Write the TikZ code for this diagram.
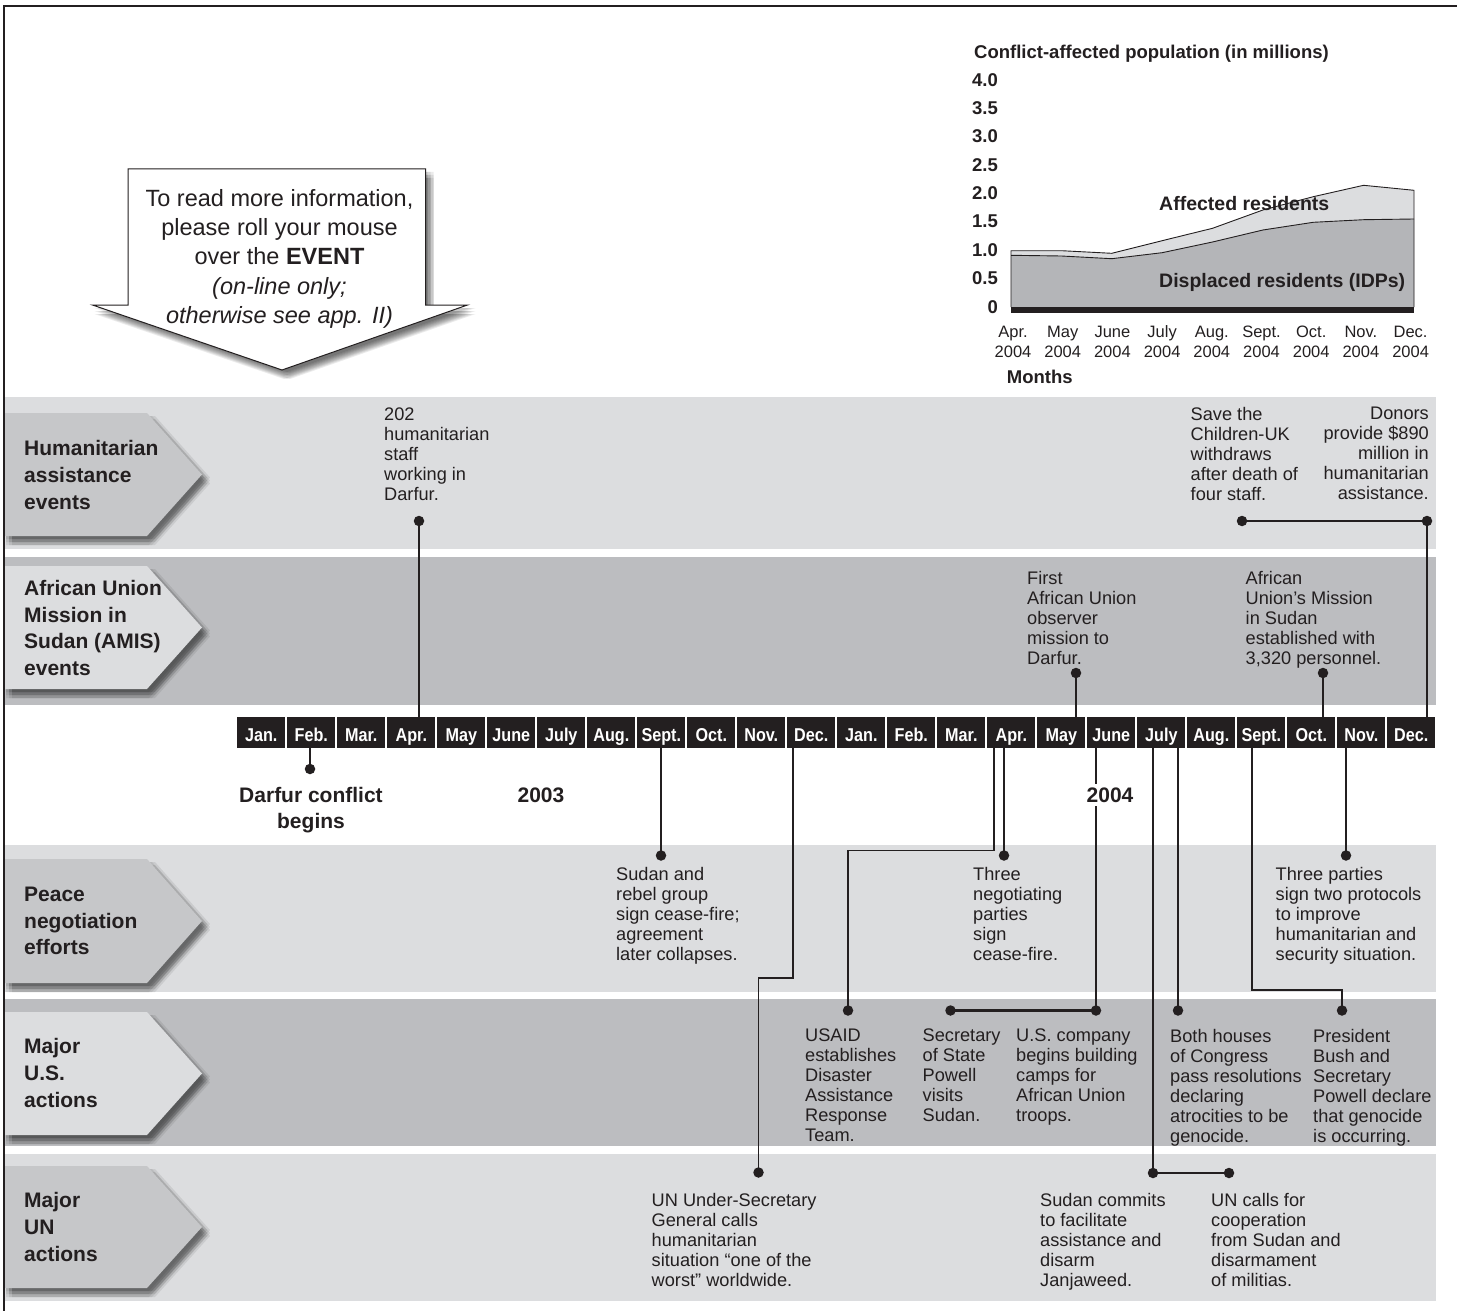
\documentclass[tikz,border=0pt]{standalone}
\usepackage{fontspec}
\setmainfont{Liberation Sans}
\definecolor{bandL}{HTML}{DCDDDF}
\definecolor{bandD}{HTML}{BCBDC0}
\definecolor{tabD}{HTML}{C6C7C9}
\definecolor{idp}{HTML}{B4B5B8}
\definecolor{ink}{HTML}{231F20}
\newcommand\dfev{\fontsize{18.2}{20}\selectfont}
\newcommand\dftab{\fontsize{21}{26.7}\selectfont\bfseries}
\newcommand\dfmon{\fontsize{18.6}{20}\selectfont\bfseries}
\newcommand\dfco{\fontsize{23.5}{29.3}\selectfont}
\newcommand\dfcht{\fontsize{18.5}{20}\selectfont\bfseries}
\newcommand\dfax{\fontsize{16.5}{20}\selectfont}
\newcommand\dfyr{\fontsize{21}{26}\selectfont\bfseries}
\newcommand\dfshadow[1]{%
  \foreach \sx in {2,5,8}{\foreach \sy in {3,6,9}{\fill[black,opacity=0.08,shift={(\sx,\sy)}] #1;}}}
\newcommand\dftabshape[3]{%
  \pgfmathsetmacro\tmid{(#1+#2)/2}%
  \dfshadow{(4,#1) -- (147,#1) -- (202,\tmid) -- (147,#2) -- (4,#2) -- cycle}%
  \fill[#3] (4,#1) -- (147,#1) -- (202,\tmid) -- (147,#2) -- (4,#2) -- cycle;}
\tikzset{
  evt/.style={anchor=north west, align=left, inner sep=0, font=\dfev, text=ink},
  evtr/.style={anchor=north east, align=right, inner sep=0, font=\dfev, text=ink},
  tablabel/.style={anchor=west, align=left, inner sep=0, font=\dftab, text=ink},
  mbox/.style={rectangle, fill=ink, minimum width=48pt, minimum height=31.5pt, inner sep=0,
     text=white, font=\dfmon, text height=18.4pt, text depth=0pt},
  con/.style={line width=2.6pt, draw=ink},
  conthin/.style={line width=1.4pt, draw=ink},
  dot/.style={circle, fill=ink, inner sep=0, minimum size=10.5pt},
  yrlab/.style={font=\dfyr, text=ink, inner sep=0},
  chart/.style={font=\dfcht, text=ink, inner sep=0},
  axlab/.style={font=\dfax, text=ink, inner sep=0, align=center, anchor=north}
}
\begin{document}
\begin{tikzpicture}[x=1pt,y=-1pt]
\useasboundingbox (0,0) rectangle (1457,1311);
\fill[white] (0,0) rectangle (1457,1311);
% bands
\fill[bandL] (5,397) rectangle (1436,549);
\fill[bandD] (5,557) rectangle (1436,704.5);
\fill[bandL] (5,845) rectangle (1436,992);
\fill[bandD] (5,999) rectangle (1436,1146);
\fill[bandL] (5,1153.5) rectangle (1436,1301);
% tabs
\dftabshape{413}{536}{tabD}
\dftabshape{566}{689}{bandL}
\dftabshape{859}{983}{tabD}
\dftabshape{1012}{1135}{bandL}
\dftabshape{1166}{1288}{tabD}
\node[tablabel] (t1) at (24,475) {Humanitarian\\assistance\\events};
\node[tablabel] (t2) at (24,628) {African Union\\Mission in\\Sudan (AMIS)\\events};
\node[tablabel] (t3) at (24,921) {Peace\\negotiation\\efforts};
\node[tablabel] (t4) at (24,1073) {Major\\U.S.\\actions};
\node[tablabel] (t5) at (24,1227) {Major\\UN\\actions};
% frame
\draw[line width=1.3pt, ink] (4,1311) -- (4,6) -- (1457,6);
% callout
\dfshadow{(128,169) -- (425.5,169) -- (425.5,305) -- (467.5,305) -- (282,370) -- (92.5,305) -- (128,305) -- cycle}
\draw[fill=white, draw=ink, line width=1pt] (128,169) -- (425.5,169) -- (425.5,305) -- (467.5,305) -- (282,370) -- (92.5,305) -- (128,305) -- cycle;
\node[font=\dfco, text=ink, align=center, anchor=north, inner sep=0] (callt) at (279.5,189)
  {To read more information,\\please roll your mouse\\over the \textbf{EVENT}\\\textit{(on-line only;}\\\textit{otherwise see app. II)}};
% chart
\fill[bandL] (1011,307) -- (1011,250.7) -- (1061.4,250.7) -- (1111.75,253.3) -- (1162.1,240.7) -- (1212.5,228.3) -- (1262.9,210) -- (1313.25,196.7) -- (1363.6,185.3) -- (1414,190.3) -- (1414,307) -- cycle;
\fill[idp] (1011,307) -- (1011,255.3) -- (1061.4,256) -- (1111.75,258.7) -- (1162.1,252.7) -- (1212.5,242) -- (1262.9,230) -- (1313.25,222.3) -- (1363.6,219.7) -- (1414,219) -- (1414,307) -- cycle;
\draw[ink, line width=0.9pt] (1011,307) -- (1011,250.7) -- (1061.4,250.7) -- (1111.75,253.3) -- (1162.1,240.7) -- (1212.5,228.3) -- (1262.9,210) -- (1313.25,196.7) -- (1363.6,185.3) -- (1414,190.3) -- (1414,307);
\draw[ink, line width=0.9pt] (1011,255.3) -- (1061.4,256) -- (1111.75,258.7) -- (1162.1,252.7) -- (1212.5,242) -- (1262.9,230) -- (1313.25,222.3) -- (1363.6,219.7) -- (1414,219);
\fill[ink] (1011,306.7) rectangle (1414,312.7);
\node[chart, anchor=west] (ctitle) at (974,54) {Conflict-affected population (in millions)};
\foreach \v/\l [count=\k] in {0/0,0.5/0.5,1/1.0,1.5/1.5,2/2.0,2.5/2.5,3/3.0,3.5/3.5,4/4.0}
  \node[chart, anchor=east] (yl\k) at (998,{306.7-56.75*\v}) {\l};
\foreach \m [count=\i from 0] in {Apr.,May,June,July,Aug.,Sept.,Oct.,Nov.,Dec.}
  \node[axlab] (xl\i) at ({1013+49.7*\i},325.5) {\m\\2004};
\node[chart, anchor=west] (cmon) at (1006.7,376.7) {Months};
\node[chart, anchor=west, font=\fontsize{19.5}{20}\selectfont\bfseries] (caff) at (1159,203.3) {Affected residents};
\node[chart, anchor=west, font=\fontsize{19.5}{20}\selectfont\bfseries] (cidp) at (1159,282.7) {Displaced residents (IDPs)};
% month boxes
\foreach \lab [count=\i from 0] in {Jan.,Feb.,Mar.,Apr.,May,June,July,Aug.,Sept.,Oct.,Nov.,Dec.,Jan.,Feb.,Mar.,Apr.,May,June,July,Aug.,Sept.,Oct.,Nov.,Dec.}
  \node[mbox] (m\i) at ({261.3+50*\i},732.5) {\scalebox{0.87}[1]{\lab}};
% dots
\node[dot] (dA) at (419,521) {};
\node[dot] (dB) at (1242,521) {};
\node[dot] (dC) at (1427,521) {};
\node[dot] (dD) at (1076,673) {};
\node[dot] (dE) at (1323,673) {};
\node[dot] (dF) at (310,769) {};
\node[dot] (dG) at (661,855.5) {};
\node[dot] (dH) at (1004,855.5) {};
\node[dot] (dI) at (1346,855.5) {};
\node[dot] (dJ) at (848,1010.5) {};
\node[dot] (dK) at (950.5,1010.5) {};
\node[dot] (dL) at (1096,1010.5) {};
\node[dot] (dM) at (1178,1010.5) {};
\node[dot] (dN) at (1342,1010.5) {};
\node[dot] (dO) at (758.5,1172.5) {};
\node[dot] (dP) at (1153,1173) {};
\node[dot] (dQ) at (1229,1173) {};
\coordinate (b1) at (793,978);
\coordinate (b2) at (994,850.5);
\coordinate (b3) at (1252,990);
% connectors
\draw[con] (dA.center) -- (dA.center |- m3.north);
\draw[con] (dB.center) -- (dC.center) -- (dC.center |- m23.north);
\draw[con] (dD.center) -- (dD.center |- m16.north);
\draw[con] (dE.center) -- (dE.center |- m21.north);
\draw[con] (dF.center) -- (dF.center |- m1.south);
\draw[con] (dG.center) -- (dG.center |- m8.south);
\draw[conthin] (dO.center) |- (b1) -- (b1 |- m11.south);
\draw[conthin] (dJ.center) |- (b2) -- (b2 |- m15.south);
\draw[con] (dH.center) -- (dH.center |- m15.south);
\draw[con] (dK.center) -- (dL.center) -- (dL.center |- m17.south);
\draw[con] (dQ.center) -- (dP.center) -- (dP.center |- m18.south);
\draw[con] (dM.center) -- (dM.center |- m18.south);
\draw[conthin] (dN.center) |- (b3) -- (b3 |- m20.south);
\draw[con] (dI.center) -- (dI.center |- m22.south);
% years
\node[yrlab, align=center, anchor=north] (dconf) at (311,787.5) {Darfur conflict\\begins};
\node[yrlab] (y2003) at (541,795) {2003};
\node[yrlab, fill=white, inner sep=4pt] (y2004) at (1110,795) {2004};
% events
\node[evt] (e1) at (384,407.5) {202\\humanitarian\\staff\\working in\\Darfur.};
\node[evt] (e2) at (1190.5,407) {Save the\\Children-UK\\withdraws\\after death of\\four staff.};
\node[evtr] (e3) at (1429,407) {Donors\\provide \$890\\million in\\humanitarian\\assistance.};
\node[evt] (e4) at (1027,571) {First\\African Union\\observer\\mission to\\Darfur.};
\node[evt] (e5) at (1245.5,571) {African\\Union’s Mission\\in Sudan\\established with\\3,320 personnel.};
\node[evt] (e6) at (616,867) {Sudan and\\rebel group\\sign cease-fire;\\agreement\\later collapses.};
\node[evt] (e7) at (973,867) {Three\\negotiating\\parties\\sign\\cease-fire.};
\node[evt] (e8) at (1275.5,867) {Three parties\\sign two protocols\\to improve\\humanitarian and\\security situation.};
\node[evt] (e9) at (805,1029) {USAID\\establishes\\Disaster\\Assistance\\Response\\Team.};
\node[evt] (e10) at (922.5,1029) {Secretary\\of State\\Powell\\visits\\Sudan.};
\node[evt] (e11) at (1016,1029) {U.S. company\\begins building\\camps for\\African Union\\troops.};
\node[evt] (e12) at (1170,1029) {Both houses\\of Congress\\pass resolutions\\declaring\\atrocities to be\\genocide.};
\node[evt] (e13) at (1313,1029) {President\\Bush and\\Secretary\\Powell declare\\that genocide\\is occurring.};
\node[evt] (e14) at (651.5,1193) {UN Under-Secretary\\General calls\\humanitarian\\situation “one of the\\worst” worldwide.};
\node[evt] (e15) at (1040,1193) {Sudan commits\\to facilitate\\assistance and\\disarm\\Janjaweed.};
\node[evt] (e16) at (1211,1193) {UN calls for\\cooperation\\from Sudan and\\disarmament\\of militias.};
\end{tikzpicture}
\end{document}
